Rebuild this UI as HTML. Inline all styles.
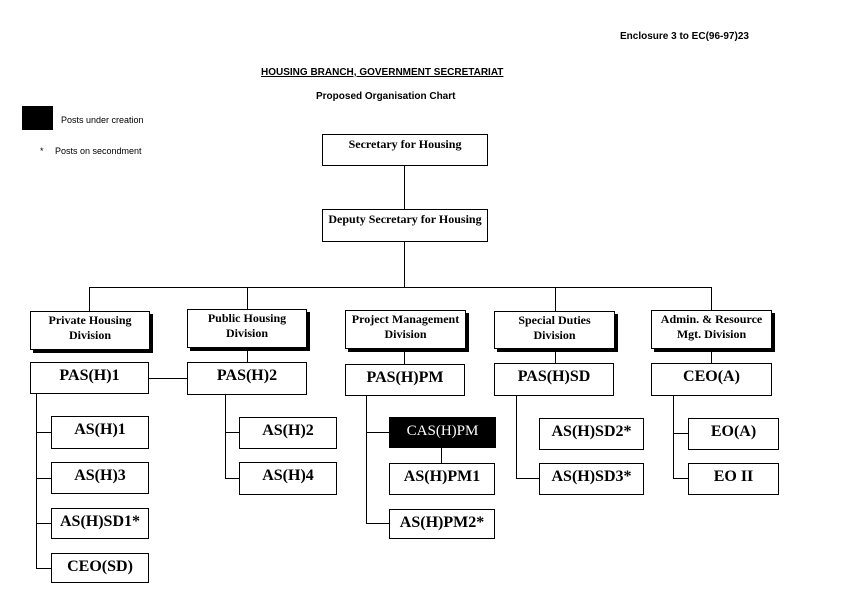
<!DOCTYPE html>
<html><head><meta charset="utf-8"><style>
body{margin:0;width:851px;height:594px;background:#fff;position:relative;overflow:hidden;font-family:"Liberation Serif",serif;}
.a{position:absolute;}
.b{position:absolute;border:1px solid #000;box-sizing:border-box;text-align:center;font-weight:bold;background:#fff;}
.d{box-shadow:3px 3px 0 #000;font-size:12px;line-height:15px;padding-top:1px;}
.p{font-size:16px;line-height:26px;}
.h{position:absolute;height:1px;background:#000;}
.v{position:absolute;width:1px;background:#000;}
.s{font-family:"Liberation Sans",sans-serif;}
</style></head><body>
<div class="a s" style="left:620px;top:31px;font-size:10px;font-weight:bold;">Enclosure 3 to EC(96-97)23</div>
<div class="a s" style="left:261px;top:67px;font-size:10px;font-weight:bold;text-decoration:underline;">HOUSING BRANCH, GOVERNMENT SECRETARIAT</div>
<div class="a s" style="left:316px;top:91px;font-size:10px;font-weight:bold;">Proposed Organisation Chart</div>
<div class="a" style="left:22px;top:106px;width:31px;height:24px;background:#000;"></div>
<div class="a s" style="left:61px;top:115px;font-size:9px;">Posts under creation</div>
<div class="a s" style="left:40px;top:146px;font-size:9px;">*</div>
<div class="a s" style="left:55px;top:146px;font-size:9px;">Posts on secondment</div>

<div class="b" style="left:322px;top:134px;width:166px;height:32px;font-size:12px;line-height:18px;">Secretary for Housing</div>
<div class="v" style="left:404px;top:166px;height:44px;"></div>
<div class="b" style="left:322px;top:209px;width:166px;height:33px;font-size:12px;line-height:18px;">Deputy Secretary for Housing</div>
<div class="v" style="left:404px;top:242px;height:46px;"></div>
<div class="h" style="left:89px;top:287px;width:623px;"></div>
<div class="v" style="left:89px;top:287px;height:24px;"></div>
<div class="v" style="left:247px;top:287px;height:22px;"></div>
<div class="v" style="left:555px;top:287px;height:24px;"></div>
<div class="v" style="left:711px;top:287px;height:23px;"></div>

<div class="b d" style="left:30px;top:311px;width:120px;height:39px;">Private Housing<br>Division</div>
<div class="b d" style="left:187px;top:309px;width:120px;height:39px;">Public Housing<br>Division</div>
<div class="b d" style="left:345px;top:310px;width:121px;height:39px;">Project Management<br>Division</div>
<div class="b d" style="left:494px;top:311px;width:121px;height:38px;">Special Duties<br>Division</div>
<div class="b d" style="left:651px;top:310px;width:121px;height:39px;">Admin. &amp; Resource<br>Mgt. Division</div>

<div class="v" style="left:247px;top:350px;height:12px;"></div>
<div class="v" style="left:404px;top:351px;height:13px;"></div>
<div class="v" style="left:555px;top:351px;height:12px;"></div>
<div class="v" style="left:711px;top:351px;height:12px;"></div>

<div class="b p" style="left:30px;top:362px;width:119px;height:32px;">PAS(H)1</div>
<div class="h" style="left:149px;top:378px;width:38px;"></div>
<div class="b p" style="left:187px;top:362px;width:120px;height:33px;">PAS(H)2</div>
<div class="b p" style="left:345px;top:364px;width:120px;height:32px;">PAS(H)PM</div>
<div class="b p" style="left:494px;top:363px;width:120px;height:33px;">PAS(H)SD</div>
<div class="b p" style="left:651px;top:363px;width:121px;height:33px;">CEO(A)</div>

<div class="v" style="left:36px;top:394px;height:175px;"></div>
<div class="h" style="left:36px;top:432px;width:15px;"></div>
<div class="h" style="left:36px;top:478px;width:15px;"></div>
<div class="h" style="left:36px;top:523px;width:15px;"></div>
<div class="h" style="left:36px;top:568px;width:15px;"></div>
<div class="b p" style="left:51px;top:416px;width:98px;height:33px;">AS(H)1</div>
<div class="b p" style="left:51px;top:462px;width:98px;height:32px;">AS(H)3</div>
<div class="b p" style="left:51px;top:508px;width:98px;height:31px;">AS(H)SD1*</div>
<div class="b p" style="left:51px;top:553px;width:98px;height:30px;">CEO(SD)</div>

<div class="v" style="left:225px;top:395px;height:83px;"></div>
<div class="h" style="left:225px;top:432px;width:14px;"></div>
<div class="h" style="left:225px;top:478px;width:14px;"></div>
<div class="b p" style="left:239px;top:417px;width:98px;height:32px;">AS(H)2</div>
<div class="b p" style="left:239px;top:462px;width:98px;height:33px;">AS(H)4</div>

<div class="v" style="left:366px;top:396px;height:128px;"></div>
<div class="h" style="left:366px;top:432px;width:23px;"></div>
<div class="h" style="left:366px;top:523px;width:23px;"></div>
<div class="b p" style="left:389px;top:417px;width:107px;height:31px;background:#000;color:#fff;font-weight:normal;font-size:15px;">CAS(H)PM</div>
<div class="v" style="left:441px;top:448px;height:15px;"></div>
<div class="b p" style="left:389px;top:463px;width:106px;height:32px;">AS(H)PM1</div>
<div class="b p" style="left:389px;top:509px;width:106px;height:30px;">AS(H)PM2*</div>

<div class="v" style="left:516px;top:396px;height:83px;"></div>
<div class="h" style="left:516px;top:478px;width:23px;"></div>
<div class="b p" style="left:539px;top:418px;width:105px;height:32px;">AS(H)SD2*</div>
<div class="b p" style="left:539px;top:463px;width:105px;height:32px;">AS(H)SD3*</div>

<div class="v" style="left:673px;top:396px;height:83px;"></div>
<div class="h" style="left:673px;top:433px;width:15px;"></div>
<div class="h" style="left:673px;top:478px;width:15px;"></div>
<div class="b p" style="left:688px;top:418px;width:91px;height:32px;">EO(A)</div>
<div class="b p" style="left:688px;top:463px;width:91px;height:32px;">EO II</div>
</body></html>
